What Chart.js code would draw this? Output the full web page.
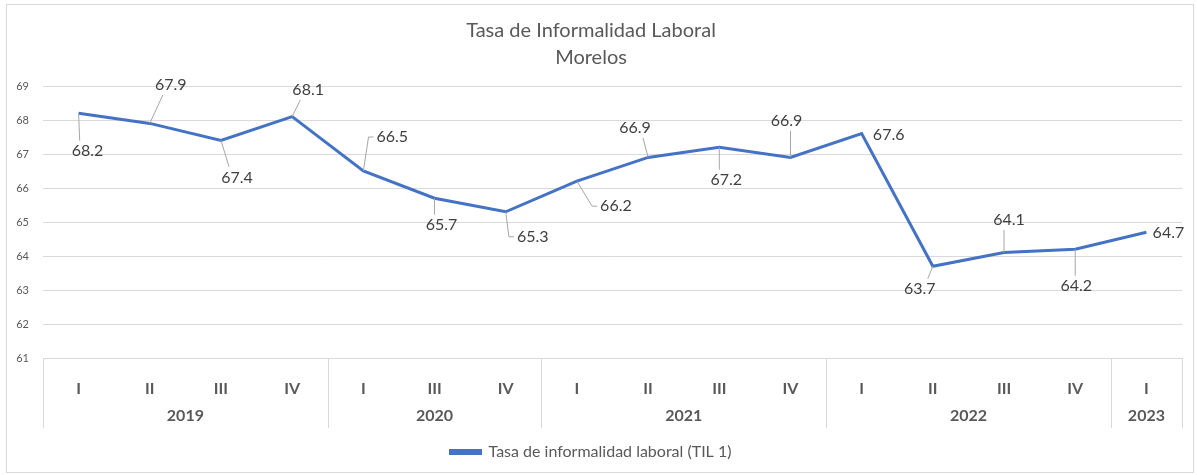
<!DOCTYPE html>
<html>
<head>
<meta charset="utf-8">
<script src="https://cdn.jsdelivr.net/npm/chart.js@4"></script>
<style>
  body { margin: 0; background: #fff; }
  #wrap { width: 1197px; height: 475px; }
</style>
</head>
<body>
<div id="wrap"><canvas id="til"></canvas></div>
<script>
// Datos
const quarters = ['I', 'II', 'III', 'IV', 'I', 'III', 'IV', 'I', 'II', 'III', 'IV', 'I', 'II', 'III', 'IV', 'I'];
const years = ['2019', '2020', '2021', '2022', '2023'];
const quartersPerYear = [4, 3, 4, 4, 1];
const til = [68.2, 67.9, 67.4, 68.1, 66.5, 65.7, 65.3, 66.2, 66.9, 67.2, 66.9, 67.6, 63.7, 64.1, 64.2, 64.7];
const yTicks = [61, 62, 63, 64, 65, 66, 67, 68, 69];

// label placement: offset of text centre from the point (px) and leader type
// 'v' = leader to top/bottom of label, 'h' = leader with a side stub, '' = none
const labelPos = [
  [9, 38, 'v'], [21, -39, 'v'], [16, 37, 'v'], [16, -27, 'v'],
  [29, -34, 'h'], [7, 27, 'v'], [27, 25, 'h'], [39, 25, 'h'],
  [-13, -30, 'v'], [7, 33, 'v'], [-4, -37, 'v'], [27, 1, ''],
  [-13, 23, 'v'], [5, -33, 'v'], [1, 37, 'v'], [22, 1, '']
];

const FONT = 'Lato, "Open Sans", sans-serif';
const GRID = '#d9d9d9';
const TXT = '#595959';

const framePlugin = {
  id: 'frame',
  beforeDraw(chart) {
    const c = chart.ctx;
    c.save();
    c.fillStyle = '#fff';
    c.fillRect(0, 0, chart.width, chart.height);
    c.strokeStyle = GRID;
    c.lineWidth = 1;
    c.strokeRect(6.5, 4.5, chart.width - 10, chart.height - 7);
    c.restore();
  }
};

// year row + category box
const groupAxis = {
  id: 'groupAxis',
  afterDraw(chart) {
    const c = chart.ctx, x = chart.scales.x, area = chart.chartArea;
    const step = x.getPixelForValue(1) - x.getPixelForValue(0);
    const top = area.bottom, bottom = area.bottom + 70;
    c.save();
    c.strokeStyle = GRID;
    c.lineWidth = 1;
    c.beginPath();
    c.moveTo(area.left, top + 0.5);
    c.lineTo(area.right, top + 0.5);
    let idx = 0;
    const edges = [x.getPixelForValue(0) - step / 2];
    quartersPerYear.forEach(n => { idx += n; edges.push(x.getPixelForValue(idx - 1) + step / 2); });
    edges.forEach(e => { const ex = Math.round(e) + 0.5; c.moveTo(ex, top); c.lineTo(ex, bottom); });
    c.stroke();
    c.fillStyle = TXT;
    c.font = 'bold 16px ' + FONT;
    c.textAlign = 'center';
    c.textBaseline = 'middle';
    years.forEach((y, i) => c.fillText(y, (edges[i] + edges[i + 1]) / 2, top + 58));
    c.restore();
  }
};

const dataLabels = {
  id: 'dataLabels',
  afterDatasetsDraw(chart) {
    const c = chart.ctx;
    const pts = chart.getDatasetMeta(0).data;
    c.save();
    c.font = '16px ' + FONT;
    c.textAlign = 'center';
    c.textBaseline = 'middle';
    pts.forEach((p, i) => {
      const [dx, dy, leader] = labelPos[i];
      const txt = til[i].toFixed(1);
      const w = c.measureText(txt).width, h = 15;
      const lx = p.x + dx, ly = p.y + dy;
      if (leader) {
        c.strokeStyle = '#a6a6a6';
        c.lineWidth = 1;
        c.beginPath();
        c.moveTo(p.x, p.y);
        if (leader === 'h') {
          const ex = lx - Math.sign(dx) * (w / 2 + 3);
          c.lineTo(ex - Math.sign(dx) * 5, ly);
          c.lineTo(ex, ly);
        } else {
          c.lineTo(lx - Math.sign(dx) * Math.min(Math.abs(dx), w / 4), ly - Math.sign(dy) * (h / 2 + 3));
        }
        c.stroke();
      }
      c.fillStyle = '#404040';
      c.fillText(txt, lx, ly);
    });
    c.restore();
  }
};

new Chart(document.getElementById('til'), {
  type: 'line',
  data: {
    labels: quarters,
    datasets: [{
      label: 'Tasa de informalidad laboral (TIL 1)',
      data: til,
      borderColor: '#4472c4',
      backgroundColor: '#4472c4',
      borderWidth: 3,
      pointRadius: 0,
      tension: 0
    }]
  },
  options: {
    responsive: true,
    maintainAspectRatio: false,
    animation: false,
    layout: { padding: { left: 0, right: 15, top: 0, bottom: 5 } },
    scales: {
      x: {
        offset: true,
        grid: { display: false, offset: true },
        border: { display: false },
        ticks: { color: TXT, font: { family: FONT, size: 16, weight: 'bold' }, padding: 13, maxRotation: 0 },
        afterFit(s) { s.height = 80; }
      },
      y: {
        min: 61, max: 69,
        afterBuildTicks(s) { s.ticks = yTicks.map(v => ({ value: v })); },
        grid: { color: GRID, drawTicks: false },
        border: { display: false },
        ticks: { color: TXT, font: { family: FONT, size: 11 }, padding: 14 },
        afterFit(s) { s.width = 43; }
      }
    },
    plugins: {
      title: {
        display: true,
        text: ['Tasa de Informalidad Laboral', 'Morelos'],
        color: TXT,
        font: { family: FONT, size: 20, weight: 'normal', lineHeight: 1.35 },
        padding: { top: 17, bottom: 15 }
      },
      legend: {
        position: 'bottom',
        labels: { color: TXT, font: { family: FONT, size: 16 }, boxWidth: 30, boxHeight: 3, padding: 6 }
      },
      tooltip: { enabled: false }
    }
  },
  plugins: [framePlugin, groupAxis, dataLabels]
});
</script>
</body>
</html>
